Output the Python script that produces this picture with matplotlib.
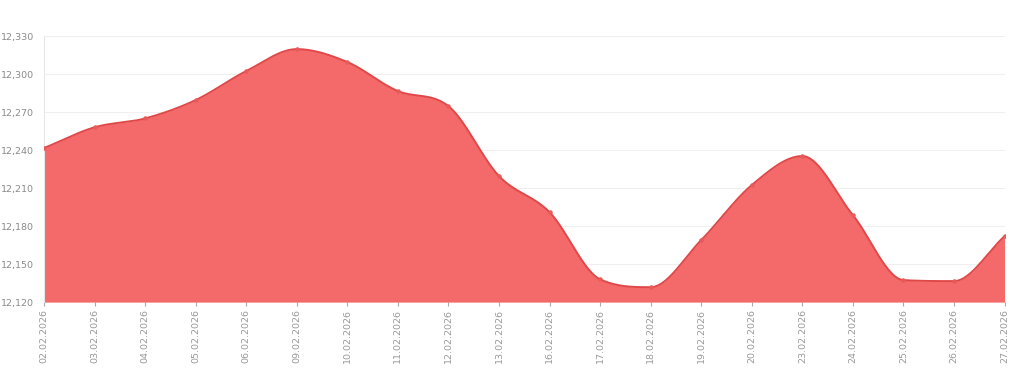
import matplotlib.pyplot as plt
import numpy as np

dates = ['02.02.2026', '03.02.2026', '04.02.2026', '05.02.2026', '06.02.2026',
         '09.02.2026', '10.02.2026', '11.02.2026', '12.02.2026', '13.02.2026',
         '16.02.2026', '17.02.2026', '18.02.2026', '19.02.2026', '20.02.2026',
         '23.02.2026', '24.02.2026', '25.02.2026', '26.02.2026', '27.02.2026']
rates = [12241.6, 12258.0, 12265.0, 12279.5, 12302.4,
         12319.7, 12309.5, 12286.6, 12274.7, 12219.5,
         12191.0, 12138.0, 12131.8, 12169.0, 12212.4,
         12235.3, 12188.7, 12137.4, 12136.6, 12172.0]
yticks = [12120, 12150, 12180, 12210, 12240, 12270, 12300, 12330]


def monotone_curve(x, y, n=30):
    # Fritsch-Carlson monotone cubic, like chart.js cubicInterpolationMode 'monotone'
    x = np.asarray(x, float)
    y = np.asarray(y, float)
    h = np.diff(x)
    d = np.diff(y) / h
    m = np.zeros_like(y)
    m[0], m[-1] = d[0], d[-1]
    for i in range(1, len(y) - 1):
        if d[i - 1] * d[i] <= 0:
            m[i] = 0
        else:
            m[i] = (d[i - 1] + d[i]) / 2
    for i in range(len(d)):
        if d[i] == 0:
            m[i] = m[i + 1] = 0
            continue
        a, b = m[i] / d[i], m[i + 1] / d[i]
        s = a * a + b * b
        if s > 9:
            t = 3 / np.sqrt(s)
            m[i], m[i + 1] = t * a * d[i], t * b * d[i]
    xs, ys = [], []
    for i in range(len(d)):
        t = np.linspace(0, 1, n, endpoint=False)
        h00 = 2 * t**3 - 3 * t**2 + 1
        h10 = t**3 - 2 * t**2 + t
        h01 = -2 * t**3 + 3 * t**2
        h11 = t**3 - t**2
        xs.append(x[i] + t * h[i])
        ys.append(h00 * y[i] + h10 * h[i] * m[i] + h01 * y[i + 1] + h11 * h[i] * m[i + 1])
    xs.append([x[-1]])
    ys.append([y[-1]])
    return np.concatenate(xs), np.concatenate(ys)


x = np.arange(len(dates))
xs, ys = monotone_curve(x, rates)

fig = plt.figure(figsize=(10.24, 3.68), dpi=100)
ax = fig.add_axes([0.043, 0.179, 0.938, 0.723])

ax.fill_between(xs, ys, 12120, color='#f46a6a', linewidth=0, zorder=2)
ax.plot(xs, ys, color='#e04848', linewidth=1.4, zorder=3)
ax.scatter(x, rates, s=5, color='#e65a5a', zorder=4)

ax.set_xlim(0, len(dates) - 1)
ax.set_ylim(12120, 12330)
ax.set_yticks(yticks)
ax.set_yticklabels([f'{v:,}' for v in yticks])
ax.set_xticks(x)
ax.set_xticklabels(dates, rotation=90)
ax.grid(axis='y', color='#efefef', linewidth=0.8, zorder=0)

for s in ['top', 'right', 'bottom']:
    ax.spines[s].set_visible(False)
ax.spines['left'].set_color('#e6e6e6')
ax.tick_params(axis='y', length=0, labelsize=6.8, colors='#8a8a8a', pad=7)
ax.tick_params(axis='x', length=3, labelsize=6.8, colors='#aaaaaa', labelcolor='#999999', pad=2)

fig.savefig('out.png', dpi=100)
